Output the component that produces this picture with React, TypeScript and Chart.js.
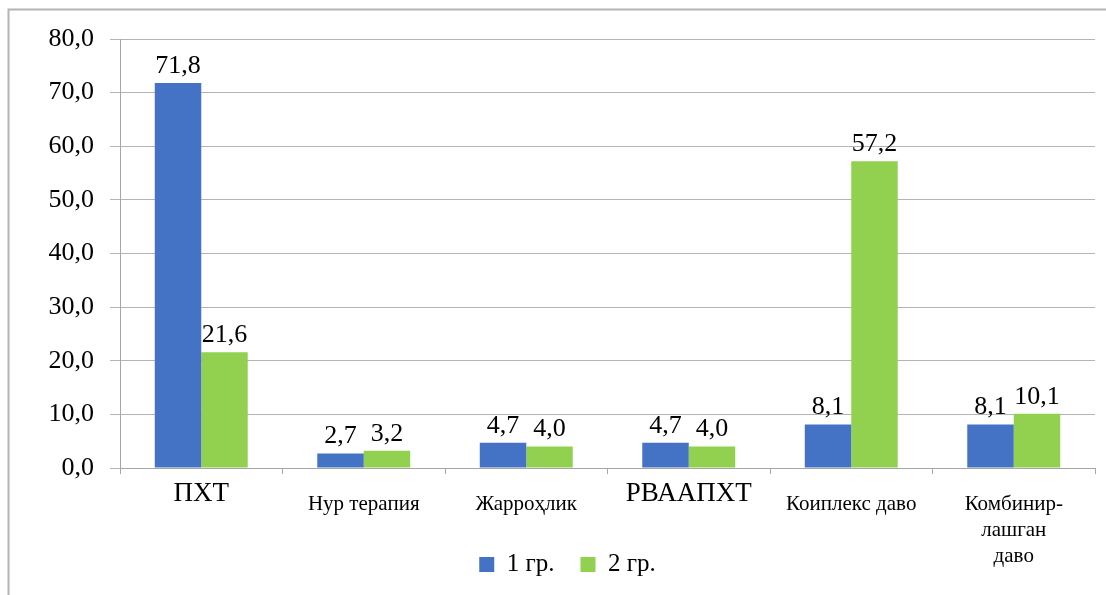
import React, { useEffect, useRef } from "react";
import { Chart, registerables } from "chart.js";

Chart.register(...registerables);

const categories: (string | string[])[] = [
  "ПХТ",
  "Нур терапия",
  "Жарроҳлик",
  "РВААПХТ",
  "Коиплекс даво",
  ["Комбинир-", "лашган", "даво"],
];
const group1: number[] = [71.8, 2.7, 4.7, 4.7, 8.1, 8.1];
const group2: number[] = [21.6, 3.2, 4.0, 4.0, 57.2, 10.1];
const seriesNames: string[] = ["1 гр.", "2 гр."];
const yTicks: number[] = [0, 10, 20, 30, 40, 50, 60, 70, 80];
const largeLabelIndexes: number[] = [0, 3];

const FONT = '"Liberation Serif"';
const fmt = (v: number) => v.toFixed(1).replace(".", ",");

Chart.defaults.font.family = FONT;

const framePlugin = {
  id: "frame",
  beforeDraw(chart: any) {
    const ctx = chart.ctx;
    ctx.save();
    ctx.fillStyle = "#ffffff";
    ctx.fillRect(0, 0, chart.width, chart.height);
    ctx.strokeStyle = "#b4b4b4";
    ctx.lineWidth = 2;
    ctx.beginPath();
    ctx.moveTo(8.5, chart.height + 5);
    ctx.lineTo(8.5, 9.5);
    ctx.lineTo(chart.width + 5, 9.5);
    ctx.stroke();
    ctx.restore();
  },
};

const legendPlacePlugin = {
  id: "legendPlace",
  afterLayout(chart: any) {
    const lg = chart.legend;
    if (!lg) return;
    const h = lg.height;
    lg.top = chart.height - 8 - h;
    lg.bottom = lg.top + h;
  },
};

const valueLabelPlugin = {
  id: "valueLabels",
  afterDatasetsDraw(chart: any) {
    const ctx = chart.ctx;
    ctx.save();
    ctx.font = `26px ${FONT}`;
    ctx.fillStyle = "#000000";
    ctx.textAlign = "center";
    ctx.textBaseline = "bottom";
    chart.data.datasets.forEach((ds: any, di: number) => {
      const meta = chart.getDatasetMeta(di);
      meta.data.forEach((bar: any, i: number) => {
        ctx.fillText(fmt(ds.data[i]), bar.x, bar.y - 4);
      });
    });
    ctx.restore();
  },
};

function warmFont() {
  try {
    const c = document.createElement("canvas");
    c.width = 50;
    c.height = 50;
    const cx = c.getContext("2d");
    if (cx) {
      [21, 25, 26, 27].forEach((s) => {
        cx.font = `${s}px ${FONT}`;
        cx.fillText("ПХТ Жарроҳлик 71,8 1 гр.", 0, 30);
      });
    }
  } catch (e) {
    /* ignore */
  }
}

export default function App() {
  const ref = useRef<HTMLCanvasElement | null>(null);
  useEffect(() => {
    if (!ref.current) return;
    warmFont();
    const chart = new Chart(ref.current, {
      type: "bar",
      data: {
        labels: categories as any,
        datasets: [
          { label: seriesNames[0], data: group1, backgroundColor: "#4472C4", barPercentage: 1, categoryPercentage: 0.572 },
          { label: seriesNames[1], data: group2, backgroundColor: "#92D050", barPercentage: 1, categoryPercentage: 0.572 },
        ],
      },
      options: {
        responsive: false,
        animation: false,
        layout: { padding: { left: 40, right: 11, top: 39, bottom: -53 } },
        plugins: {
          legend: {
            position: "bottom",
            labels: {
              font: { family: FONT, size: 25 },
              color: "#000000",
              boxWidth: 15,
              boxHeight: 15,
              padding: 26,
            },
          },
          tooltip: { enabled: false },
        },
        scales: {
          x: {
            grid: {
              drawOnChartArea: false,
              drawTicks: true,
              tickLength: 6,
              color: "#a6a6a6",
            },
            border: { color: "#a6a6a6" },
            ticks: {
              color: "#000000",
              padding: 17,
              maxRotation: 0,
              autoSkip: false,
              font: (ctx: any) =>
                largeLabelIndexes.includes(ctx.index)
                  ? { family: FONT, size: 27, lineHeight: "6px" }
                  : { family: FONT, size: 21, lineHeight: "26px" },
            },
            afterFit: (scale: any) => {
              scale.height = 119;
            },
          },
          y: {
            min: 0,
            max: 80,
            afterBuildTicks: (scale: any) => {
              scale.ticks = yTicks.map((v) => ({ value: v }));
            },
            grid: { color: "#b4b4b4", tickLength: 10 },
            border: { color: "#a6a6a6" },
            ticks: {
              color: "#000000",
              padding: 16,
              font: { family: FONT, size: 26 },
              callback: (v: any) => fmt(Number(v)),
            },
            afterFit: (scale: any) => {
              scale.width = 80;
            },
          },
        },
      },
      plugins: [framePlugin, legendPlacePlugin, valueLabelPlugin],
    });
    const redraw = () => {
      try {
        chart.update();
      } catch (e) {
        /* ignore */
      }
    };
    const timers = [50, 200, 600].map((t) => window.setTimeout(redraw, t));
    const fontsApi: any = (document as any).fonts;
    if (fontsApi && fontsApi.ready) fontsApi.ready.then(redraw);
    return () => {
      timers.forEach((t) => window.clearTimeout(t));
      chart.destroy();
    };
  }, []);
  return (
    <div style={{ position: "fixed", left: 0, top: 0, width: 1106, height: 595 }}>
      <span style={{ position: "absolute", left: -9999, top: 0, fontFamily: FONT, fontSize: 26 }}>
        ПХТ Жарроҳлик 71,8 1 гр.
      </span>
      <canvas ref={ref} width={1106} height={595} style={{ display: "block" }} />
    </div>
  );
}
